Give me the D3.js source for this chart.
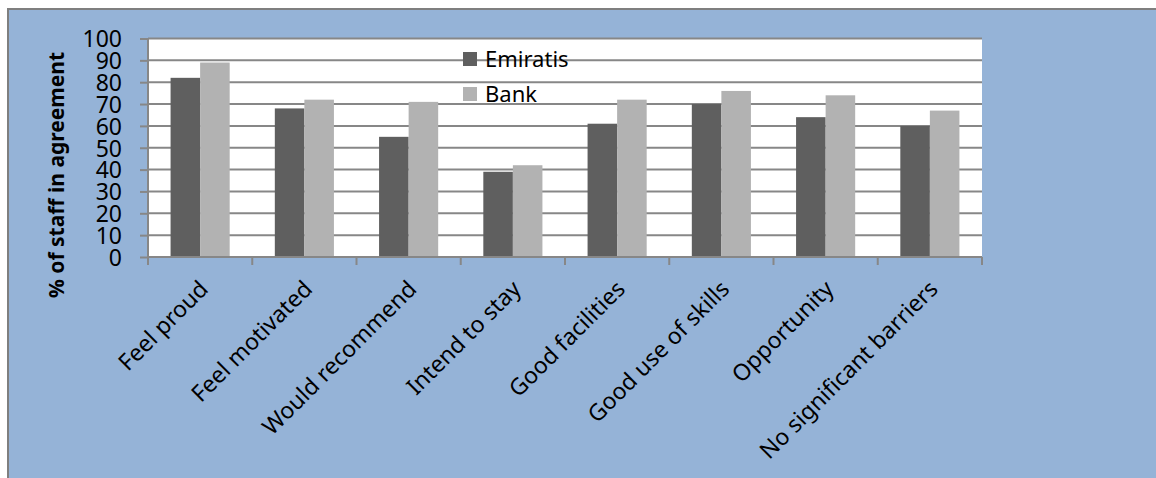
<!DOCTYPE html>
<html>
<head>
<meta charset="utf-8">
<script src="https://cdn.jsdelivr.net/npm/d3@7/dist/d3.min.js"></script>
<style>
  html, body { margin: 0; padding: 0; background: #ffffff; }
  svg { display: block; font-family: "Noto Sans", "Open Sans", sans-serif; }
</style>
</head>
<body>
<svg id="chart" width="1156" height="478"></svg>
<script>
// Survey results: share of staff agreeing with each statement
const categories = [
  "Feel proud", "Feel motivated", "Would recommend", "Intend to stay",
  "Good facilities", "Good use of skills", "Opportunity", "No significant barriers"
];
const seriesNames = ["Emiratis", "Bank"];
const emiratis = [82, 68, 55, 39, 61, 70, 64, 60];
const bank = [89, 72, 71, 42, 72, 76, 74, 67];
const yTicks = [0, 10, 20, 30, 40, 50, 60, 70, 80, 90, 100];

const seriesValues = [emiratis, bank];
const colors = { "Emiratis": "#5f5f5f", "Bank": "#b2b2b2" };

const svg = d3.select("#chart");

// Outer chart area
svg.append("rect")
  .attr("x", 8).attr("y", 9)
  .attr("width", 1160).attr("height", 480)
  .attr("fill", "#95b3d7")
  .attr("stroke", "#7f7f7f").attr("stroke-width", 2);

const plot = { left: 148, right: 982, top: 38.5, bottom: 257 };

const x0 = d3.scaleBand().domain(categories).range([plot.left, plot.right]).padding(0);
const bw = x0.bandwidth();
const x1 = d3.scaleBand().domain(seriesNames).range([bw * 0.2165, bw * 0.7835]).padding(0);
const y = d3.scaleLinear().domain([0, 100]).range([plot.bottom, plot.top]);

// Plot area background
svg.append("rect")
  .attr("x", plot.left).attr("y", plot.top)
  .attr("width", plot.right - plot.left).attr("height", plot.bottom - plot.top)
  .attr("fill", "#ffffff");

// Horizontal gridlines
svg.append("g").selectAll("line")
  .data(yTicks.filter(d => d > 0))
  .join("line")
  .attr("x1", plot.left).attr("x2", plot.right)
  .attr("y1", d => y(d)).attr("y2", d => y(d))
  .attr("stroke", "#878787").attr("stroke-width", 2);

// Bars
const groups = svg.append("g").selectAll("g")
  .data(categories)
  .join("g")
  .attr("transform", d => `translate(${x0(d)},0)`);

groups.selectAll("rect")
  .data((d, i) => seriesNames.map((s, k) => ({ s, v: seriesValues[k][i] })))
  .join("rect")
  .attr("x", d => x1(d.s))
  .attr("width", x1.bandwidth())
  .attr("y", d => y(d.v))
  .attr("height", d => y(0) - y(d.v))
  .attr("fill", d => colors[d.s]);

// Y axis
const yAxis = d3.axisLeft(y).tickValues(yTicks).tickSize(8).tickPadding(18);
const gy = svg.append("g").attr("transform", `translate(${plot.left},0)`).call(yAxis);
gy.select(".domain").attr("stroke", "#878787").attr("stroke-width", 2).attr("d", `M0,${plot.top}V${plot.bottom}`);
gy.selectAll(".tick line").attr("stroke", "#878787").attr("stroke-width", 2);
gy.selectAll(".tick text")
  .attr("font-size", 23).attr("fill", "#000")
  .attr("font-family", "\"Noto Sans\", sans-serif")
  .attr("dy", "0.36em");

// X axis with ticks at category boundaries
const gx = svg.append("g").attr("transform", `translate(0,${plot.bottom})`);
gx.append("line")
  .attr("x1", plot.left).attr("x2", plot.right)
  .attr("stroke", "#878787").attr("stroke-width", 2);
const boundaries = categories.map(c => x0(c)).concat([plot.right]);
gx.selectAll("line.tk")
  .data(boundaries)
  .join("line")
  .attr("class", "tk")
  .attr("x1", d => d).attr("x2", d => d)
  .attr("y1", 0).attr("y2", 8)
  .attr("stroke", "#878787").attr("stroke-width", 2);

// Rotated category labels
gx.selectAll("text.cat")
  .data(categories)
  .join("text")
  .attr("class", "cat")
  .attr("transform", d => `translate(${x0(d) + bw / 2 - 2},${22}) rotate(-45)`)
  .attr("text-anchor", "end")
  .attr("dy", "0.7em")
  .attr("font-size", 23)
  .attr("fill", "#000")
  .text(d => d);

// Y axis title
svg.append("text")
  .attr("transform", `translate(64,${175}) rotate(-90)`)
  .attr("text-anchor", "middle")
  .attr("font-size", 21)
  .attr("font-weight", "bold")
  .attr("fill", "#000")
  .text("% of staff in agreement");

// Legend
const legend = svg.append("g").attr("transform", "translate(463,52)");
const li = legend.selectAll("g")
  .data(seriesNames)
  .join("g")
  .attr("transform", (d, i) => `translate(0,${i * 35})`);
li.append("rect")
  .attr("width", 14).attr("height", 14)
  .attr("fill", d => colors[d]);
li.append("text")
  .attr("x", 22).attr("y", 15)
  .attr("font-size", 22)
  .attr("fill", "#000")
  .text(d => d);
</script>
</body>
</html>
